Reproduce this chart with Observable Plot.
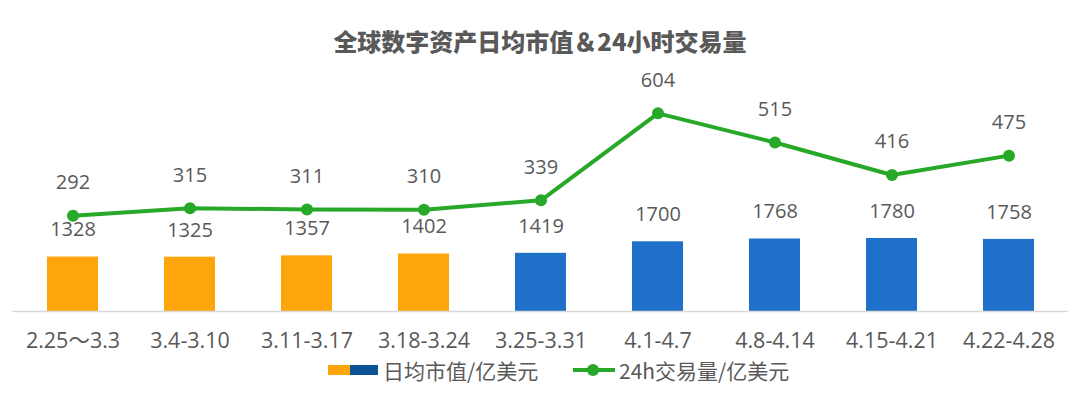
<!DOCTYPE html>
<html>
<head>
<meta charset="utf-8">
<script src="https://cdn.jsdelivr.net/npm/d3@7"></script>
<script src="https://cdn.jsdelivr.net/npm/@observablehq/plot@0.6"></script>
<style>
  html, body { margin: 0; padding: 0; background: #fff; }
  #wrap { position: relative; width: 1080px; height: 398px; overflow: hidden;
          font-family: "Open Sans", "Noto Sans CJK SC", sans-serif; color: #595959; }
  #title { position: absolute; left: 0; width: 1080px; top: 25px; text-align: center;
           font-family: "Noto Sans CJK SC", sans-serif; font-weight: 900; font-size: 24px;
           line-height: 32px; color: #595959; }
  #chart { position: absolute; left: 0; top: 0; }
  #legend { position: absolute; left: 0; width: 1080px; top: 355px; height: 30px;
            font-family: "Noto Sans CJK SC", sans-serif; font-size: 21px; line-height: 30px; }
  .item { position: absolute; top: 0; display: flex; align-items: center; height: 30px; }
  .sw { display: inline-block; height: 10px; }
</style>
</head>
<body>
<div id="wrap">
  <div id="chart"></div>
  <div id="title">全球数字资产日均市值＆24小时交易量</div>
  <div id="legend"></div>
</div>
<script>
const periods = ["2.25～3.3", "3.4-3.10", "3.11-3.17", "3.18-3.24", "3.25-3.31", "4.1-4.7", "4.8-4.14", "4.15-4.21", "4.22-4.28"];
const marketCap = [1328, 1325, 1357, 1402, 1419, 1700, 1768, 1780, 1758];
const volume24h = [292, 315, 311, 310, 339, 604, 515, 416, 475];
const seriesNames = ["日均市值/亿美元", "24h交易量/亿美元"];

const data = periods.map((p, i) => ({period: p, cap: marketCap[i], vol: volume24h[i], idx: i}));

const ORANGE = "#FFA50C", BLUE = "#1F70C8", GREEN = "#28A828", TXT = "#595959";
const K = 8.0; // secondary-axis ratio (volume -> bar scale)

const chart = Plot.plot({
  width: 1080, height: 398,
  marginTop: 60, marginBottom: 87, marginLeft: 12, marginRight: 12,
  style: {fontFamily: "'Open Sans', 'Noto Sans CJK SC', sans-serif", color: TXT, background: "transparent"},
  x: {domain: periods, paddingInner: 0.565, paddingOuter: 0.2825, label: null, axis: null},
  y: {domain: [0, 6120], axis: null},
  marks: [
    Plot.barY(data, {x: "period", y: "cap", fill: d => d.idx < 4 ? ORANGE : BLUE}),
    Plot.ruleY([0], {stroke: "#d9d9d9", strokeWidth: 1.5}),
    Plot.axisX({tickSize: 0, tickPadding: 21, fontSize: 21.5, fill: TXT, label: null}),
    Plot.line(data, {x: "period", y: d => d.vol * K, stroke: GREEN, strokeWidth: 4}),
    Plot.dot(data, {x: "period", y: d => d.vol * K, r: 6, fill: GREEN, stroke: null}),
    Plot.text(data, {x: "period", y: "cap", text: d => String(d.cap), dy: -27, fontSize: 20, fill: TXT}),
    Plot.text(data, {x: "period", y: d => d.vol * K, text: d => String(d.vol), dy: -33, fontSize: 20, fill: TXT})
  ]
});
document.getElementById("chart").appendChild(chart);

const legend = document.getElementById("legend");
legend.innerHTML = `
  <div class="item" style="left:328px">
    <span class="sw" style="width:22px;background:${ORANGE}"></span><span class="sw" style="width:28px;background:#0B5394"></span>
    <span style="margin-left:5px">${seriesNames[0]}</span>
  </div>
  <div class="item" style="left:573px">
    <svg width="44" height="14" style="display:inline-block"><line x1="0" y1="7" x2="42" y2="7" stroke="${GREEN}" stroke-width="4"/><circle cx="20" cy="7" r="6" fill="${GREEN}"/></svg>
    <span style="margin-left:2px">${seriesNames[1]}</span>
  </div>`;
</script>
</body>
</html>
